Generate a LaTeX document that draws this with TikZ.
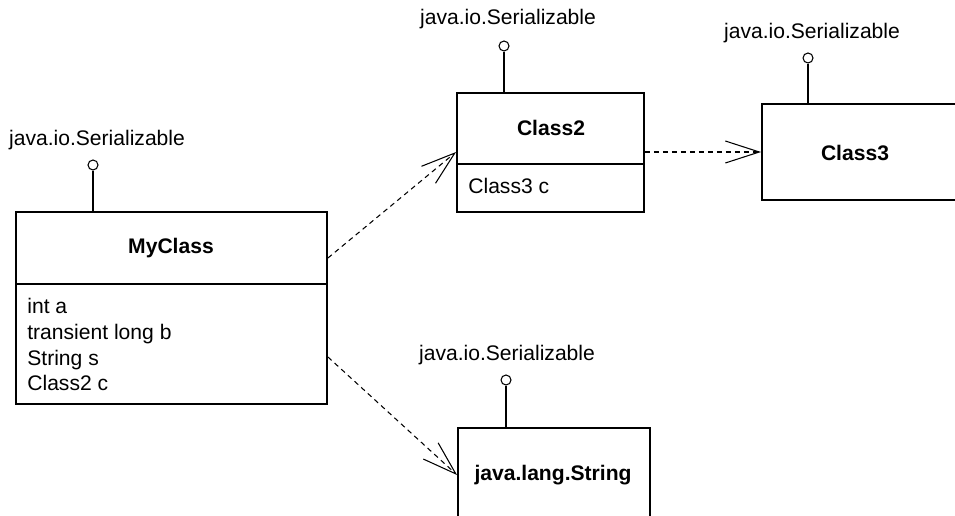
\documentclass[tikz,border=0pt]{standalone}
\usepackage{fontspec}
\setmainfont{Liberation Sans}
\usetikzlibrary{arrows.meta,positioning,calc}

\begin{document}
\begin{tikzpicture}[x=0.02cm,y=-0.02cm,
  classbox/.style={draw, line width=1.1pt, inner sep=0pt},
  ifacename/.style={font=\fontsize{12}{14}\selectfont},
  classname/.style={font=\bfseries\fontsize{12}{14}\selectfont},
  attr/.style={anchor=base west, font=\fontsize{12}{14}\selectfont, inner sep=0pt},
  lolly/.style={draw, circle, line width=0.6pt, minimum size=0.2cm, inner sep=0pt, fill=white},
  stem/.style={line width=0.8pt},
  dep/.style={dash pattern=on 0.1cm off 0.08cm, line width=0.6pt, -{Straight Barb[length=0.68cm,width=0.44cm]}}]
  \fill[white] (0,0) rectangle (955,516);
  \useasboundingbox (0,0) rectangle (955,516);

  % MyClass
  \node[classbox, minimum width=6.22cm, minimum height=3.84cm] (myclass) at (171.5,308) {};
  \draw[line width=1.1pt] (myclass.west |- 0,284) -- (myclass.east |- 0,284);
  \node[classname] (myclassname) at (171,248) {MyClass};
  \node[attr] (myclassa) at (27,314) {int a};
  \node[attr] (myclassb) at (27,339.5) {transient long b};
  \node[attr] (myclasss) at (27,365) {String s};
  \node[attr] (myclassc) at (27,390.5) {Class2 c};
  \node[lolly] (myclassif) at (93,165) {};
  \draw[stem] (myclassif.south) -- (myclassif.south |- myclass.north);
  \node[ifacename] (myclassifname) at (97,140) {java.io.Serializable};

  % Class2
  \node[classbox, minimum width=3.74cm, minimum height=2.38cm] (class2) at (550.5,152.5) {};
  \draw[line width=1.1pt] (class2.west |- 0,164) -- (class2.east |- 0,164);
  \node[classname] (class2name) at (551,128) {Class2};
  \node[attr] (class2c) at (468,194) {Class3 c};
  \node[lolly] (class2if) at (504,46) {};
  \draw[stem] (class2if.south) -- (class2if.south |- class2.north);
  \node[ifacename] (class2ifname) at (508,19) {java.io.Serializable};

  % Class3
  \node[classbox, minimum width=3.96cm, minimum height=1.92cm] (class3) at (861,152) {};
  \node[classname] (class3name) at (855,153) {Class3};
  \node[lolly] (class3if) at (808,58) {};
  \draw[stem] (class3if.south) -- (class3if.south |- class3.north);
  \node[ifacename] (class3ifname) at (812,33) {java.io.Serializable};

  % java.lang.String
  \node[classbox, minimum width=3.84cm, minimum height=2.04cm] (string) at (554,479) {};
  \node[classname] (stringname) at (553,475) {java.lang.String};
  \node[lolly] (stringif) at (506,380) {};
  \draw[stem] (stringif.south) -- (stringif.south |- string.north);
  \node[ifacename] (stringifname) at (507,355) {java.io.Serializable};

  % Dependencies
  \draw[dep] (myclass.east |- 0,258) -- (class2.west |- 0,152);
  \draw[dep] (class2.east |- 0,152) -- (class3.west |- 0,152);
  \draw[dep] (myclass.east |- 0,357) -- (string.west |- 0,475);
\end{tikzpicture}
\end{document}
